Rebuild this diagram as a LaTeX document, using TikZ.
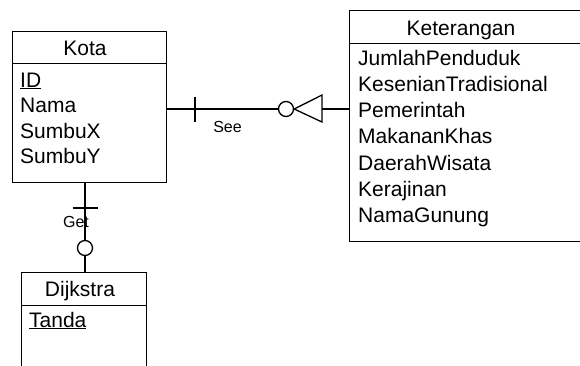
\documentclass[tikz,border=0pt]{standalone}
\usepackage{fontspec}
\setmainfont{Liberation Sans}
\begin{document}
\begin{tikzpicture}[x=1pt,y=1pt,
  ent/.style={draw, line width=1.3pt, rectangle, inner sep=0pt, anchor=north west},
  attr/.style={anchor=base west, inner sep=0pt, font=\fontsize{21}{24}\selectfont},
  ttl/.style={anchor=base, inner sep=0pt, font=\fontsize{21}{24}\selectfont},
  lbl/.style={anchor=base, inner sep=0pt, font=\fontsize{16}{18}\selectfont},
  conn/.style={line width=1.3pt},
  opt/.style={circle, draw, line width=1.3pt, fill=white, minimum size=15pt, inner sep=0pt}]
\useasboundingbox (0,0) rectangle (580,-365);
\clip (0,0) rectangle (580,-365);
% Kota
\node[ent, minimum width=154pt, minimum height=32pt] (kotah) at (12,-31) {};
\node[ent, minimum width=154pt, minimum height=119pt] (kotab) at (12,-63) {};
\node[ttl] (kotat) at (85,-55) {Kota};
\node[attr] (k1) at (20,-87) {\underline{ID}};
\node[attr] (k2) at (20,-112.5) {Nama};
\node[attr] (k3) at (20,-138) {SumbuX};
\node[attr] (k4) at (20,-163.5) {SumbuY};
% Keterangan
\node[ent, minimum width=260pt, minimum height=33pt] (keth) at (349,-10) {};
\node[ent, minimum width=260pt, minimum height=198pt] (ketb) at (349,-43) {};
\node[ttl] (kett) at (461,-35) {Keterangan};
\node[attr] (e1) at (358,-65) {JumlahPenduduk};
\node[attr] (e2) at (358,-91.3) {KesenianTradisional};
\node[attr] (e3) at (358,-117.6) {Pemerintah};
\node[attr] (e4) at (358,-143.9) {MakananKhas};
\node[attr] (e5) at (358,-170.2) {DaerahWisata};
\node[attr] (e6) at (358,-196.5) {Kerajinan};
\node[attr] (e7) at (358,-222.8) {NamaGunung};
% Dijkstra
\node[ent, minimum width=125pt, minimum height=33pt] (dijh) at (21,-272) {};
\node[ent, minimum width=125pt, minimum height=100pt] (dijb) at (21,-305) {};
\node[ttl] (dijt) at (80,-296) {Dijkstra};
\node[attr] (d1) at (29,-327) {\underline{Tanda}};
% Kota -- Keterangan (See)
\coordinate (seeline) at (0,-109);
\draw[conn] (kotab.east |- seeline) -- (ketb.west |- seeline);
\coordinate (bar1) at (195,-109);
\draw[conn] ([yshift=12.5pt]bar1) -- ([yshift=-12.5pt]bar1);
\node[opt] (c1) at (286,-109) {};
\coordinate (cf) at (322,-109);
\draw[conn, fill=white, line join=miter] (c1.east) -- ([yshift=14pt]cf) -- ([yshift=-13pt]cf) -- cycle;
\node[lbl] (see) at (227.5,-132) {See};
% Kota -- Dijkstra (Get)
\coordinate (getline) at (85,0);
\draw[conn] (kotab.south -| getline) -- (dijh.north -| getline);
\coordinate (bar2) at (85,-208);
\draw[conn] ([xshift=-12.5pt]bar2) -- ([xshift=12.5pt]bar2);
\node[lbl] (get) at (76,-227) {Get};
\node[opt] (c2) at (85,-248) {};
\end{tikzpicture}
\end{document}
